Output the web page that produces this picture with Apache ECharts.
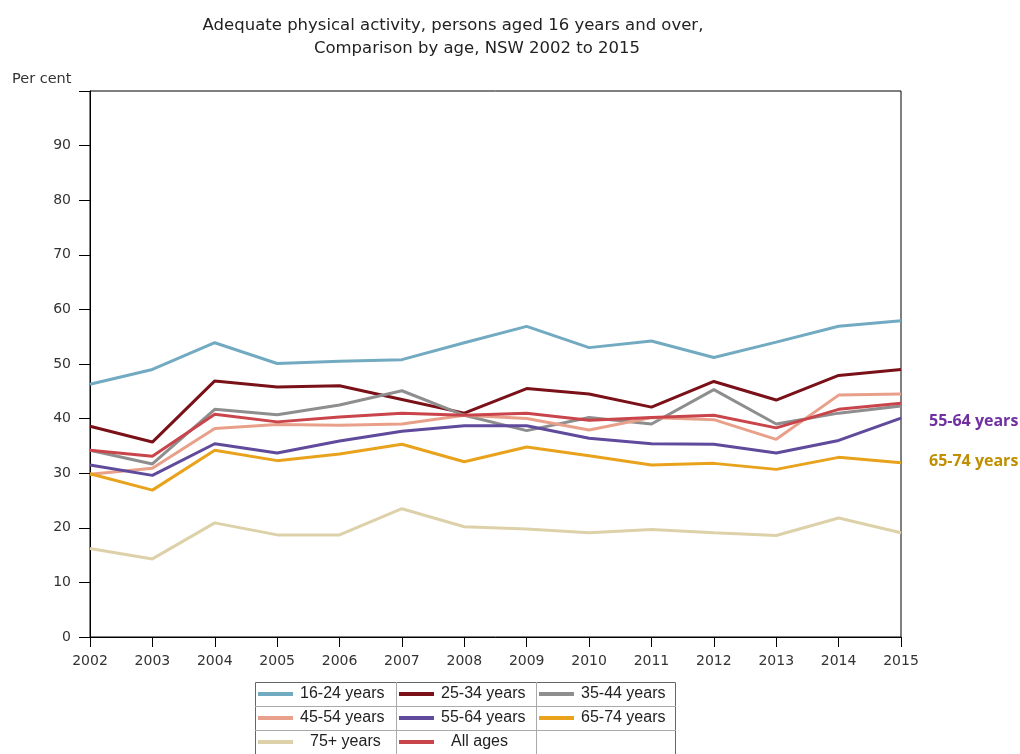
<!DOCTYPE html>
<html>
<head>
<meta charset="utf-8">
<title>Adequate physical activity by age, NSW</title>
<script src="https://cdn.jsdelivr.net/npm/echarts@6/dist/echarts.min.js"></script>
<style>
  html, body { margin: 0; padding: 0; background: #fff; }
  #chart { width: 1020px; height: 754px; }
</style>
</head>
<body>
<div id="chart"></div>
<script>
// data
const years = ['2002', '2003', '2004', '2005', '2006', '2007', '2008', '2009', '2010', '2011', '2012', '2013', '2014', '2015']
const age16to24 = [46.3, 49.0, 53.9, 50.1, 50.5, 50.8, 53.9, 56.9, 53.0, 54.2, 51.2, 54.0, 56.9, 57.9]
const age25to34 = [38.6, 35.7, 46.9, 45.8, 46.0, 43.5, 41.0, 45.5, 44.5, 42.1, 46.8, 43.4, 47.9, 49.0]
const age35to44 = [34.2, 31.7, 41.7, 40.7, 42.5, 45.1, 40.6, 37.8, 40.2, 39.0, 45.3, 39.0, 41.0, 42.3]
const age45to54 = [29.8, 30.9, 38.2, 38.9, 38.8, 39.0, 40.6, 40.0, 37.9, 40.2, 39.8, 36.2, 44.3, 44.5]
const age55to64 = [31.5, 29.6, 35.4, 33.7, 35.9, 37.7, 38.7, 38.7, 36.4, 35.4, 35.3, 33.7, 36.0, 40.1]
const age65to74 = [29.9, 26.9, 34.2, 32.3, 33.5, 35.3, 32.1, 34.8, 33.2, 31.5, 31.8, 30.7, 32.9, 31.9]
const age75plus = [16.2, 14.3, 20.9, 18.7, 18.7, 23.5, 20.2, 19.8, 19.1, 19.7, 19.1, 18.6, 21.8, 19.1]
const allAges = [34.2, 33.1, 40.8, 39.4, 40.3, 41.0, 40.6, 41.0, 39.7, 40.2, 40.6, 38.3, 41.7, 42.8]
const yTicks = [0, 10, 20, 30, 40, 50, 60, 70, 80, 90]

const seriesNames = ['16-24 years', '25-34 years', '35-44 years', '45-54 years', '55-64 years', '65-74 years', '75+ years', 'All ages']
const seriesData = [age16to24, age25to34, age35to44, age45to54, age55to64, age65to74, age75plus, allAges]
const colors = ['#72aac2', '#7a1118', '#8e8e8e', '#e9a08a', '#5f4a9b', '#e8a21c', '#ddd1aa', '#c9454b']

const chart = echarts.init(document.getElementById('chart'))

// legend is a 3 x 3 table under the plot
const cellX = [255, 396, 536]
const cellY = [682, 706, 730]
const legends = seriesNames.map((name, i) => ({
  data: [name],
  left: cellX[i % 3] + 3,
  top: cellY[Math.floor(i / 3)] + 4,
  padding: 0,
  icon: 'rect',
  itemWidth: 35,
  itemHeight: 4,
  itemGap: 0,
  selectedMode: false,
  textStyle: {
    fontFamily: 'Liberation Sans',
    fontSize: 16,
    color: '#222',
    padding: i >= 6 ? [0, 0, 0, 12] : [0, 0, 0, 2]
  }
}))

const tableLines = []
// outer frame and cell dividers
tableLines.push({ type: 'rect', shape: { x: 255.5, y: 682.5, width: 420, height: 80 }, style: { fill: null, stroke: '#666', lineWidth: 1 } })
;[706, 730].forEach(y => tableLines.push({ type: 'line', shape: { x1: 255, y1: y + 0.5, x2: 676, y2: y + 0.5 }, style: { stroke: '#aaa', lineWidth: 1 } }))
;[396, 536].forEach(x => tableLines.push({ type: 'line', shape: { x1: x + 0.5, y1: 682, x2: x + 0.5, y2: 754 }, style: { stroke: '#aaa', lineWidth: 1 } }))

const titleFont = { fontFamily: 'DejaVu Sans', fontSize: 16.5, fontWeight: 'normal', color: '#222' }

const option = {
  animation: false,
  title: [
    { text: 'Adequate physical activity, persons aged 16 years and over,', left: 448, top: 12, textAlign: 'center', textStyle: titleFont },
    { text: 'Comparison by age, NSW 2002 to 2015', left: 472, top: 35, textAlign: 'center', textStyle: titleFont }
  ],
  legend: legends,
  grid: {
    left: 90,
    right: 119,
    top: 91,
    bottom: 117,
    show: true,
    borderColor: '#000',
    borderWidth: 1
  },
  xAxis: {
    type: 'category',
    data: years,
    boundaryGap: false, // 两端贴边
    axisLine: { lineStyle: { color: '#000', width: 1 } },
    axisTick: { show: true, length: 10, lineStyle: { color: '#000' } },
    axisLabel: { color: '#333', fontFamily: 'DejaVu Sans', fontSize: 14, margin: 17 },
    splitLine: { show: false }
  },
  yAxis: {
    type: 'value',
    min: 0,
    max: 100,
    interval: 10,
    axisLine: { show: true, lineStyle: { color: '#000', width: 1 } },
    axisTick: { show: true, length: 11, lineStyle: { color: '#000' } },
    axisLabel: {
      color: '#333',
      fontFamily: 'DejaVu Sans',
      fontSize: 14,
      margin: 19,
      formatter: v => (yTicks.includes(v) ? String(v) : '')
    },
    splitLine: { show: false }
  },
  series: seriesNames.map((name, i) => ({
    name: name,
    type: 'line',
    data: seriesData[i],
    showSymbol: false,
    symbol: 'none',
    color: colors[i],
    lineStyle: { width: 3, color: colors[i] },
    z: 2 + (i === 6 ? 0 : 1)
  })),
  graphic: [
    {
      type: 'text', left: 12, top: 72,
      style: { text: 'Per cent', fontFamily: 'DejaVu Sans', fontSize: 14.5, fill: '#333' }
    },
    {
      type: 'text', left: 929, top: 413,
      style: { text: '55-64 years', fontFamily: 'Open Sans', fontWeight: 'bold', fontSize: 16, fill: '#7030a0' }
    },
    {
      type: 'text', left: 929, top: 453,
      style: { text: '65-74 years', fontFamily: 'Open Sans', fontWeight: 'bold', fontSize: 16, fill: '#bf8f00' }
    }
  ].concat(tableLines)
}

option && chart.setOption(option)
</script>
</body>
</html>
